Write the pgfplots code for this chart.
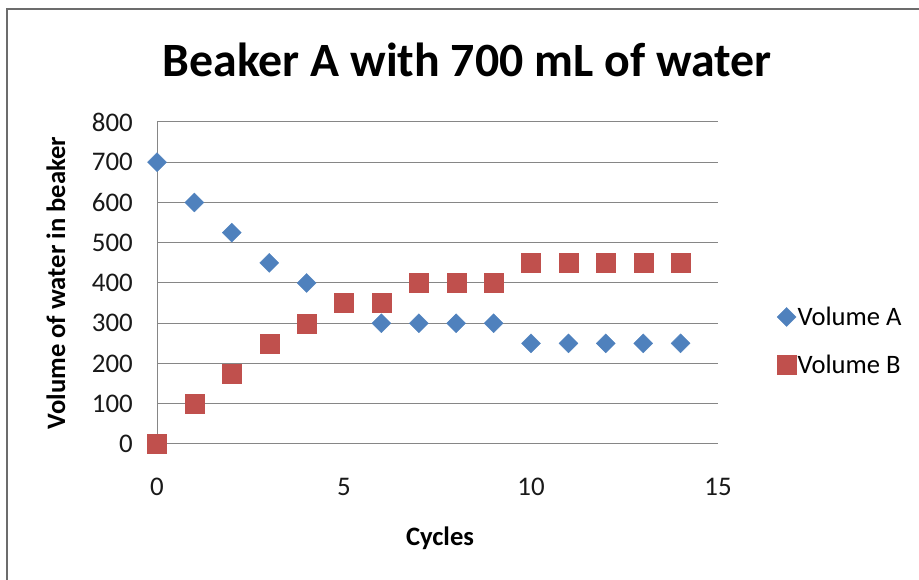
\documentclass[border=0pt]{standalone}
\usepackage{pgfplots}
\pgfplotsset{compat=1.18}
\usepackage{fontspec}
\setmainfont{Carlito}
\definecolor{blueA}{HTML}{4F81BD}
\definecolor{redB}{HTML}{C0504D}
\definecolor{gridc}{HTML}{868686}
\begin{document}
\begin{tikzpicture}[x=1bp,y=1bp]
\useasboundingbox (0,0) rectangle (919,580);
\draw[color=gray!85!black, line width=2bp] (6.5,0) -- (6.5,570.5) -- (919,570.5);
\begin{axis}[
  at={(157bp,136bp)}, anchor=south west,
  scale only axis, width=561bp, height=322bp,
  xmin=0, xmax=15, ymin=0, ymax=800,
  xtick={0,5,10,15}, ytick={0,100,...,800},
  axis lines=left, axis line style={gridc, -, line width=1bp},
  ymajorgrids, grid style={gridc, line width=1bp},
  major tick length=0pt,
  /pgf/number format/assume math mode=true,
  tick label style={font=\fontsize{27}{30}\selectfont, text=black!90},
  yticklabel style={anchor=east, inner sep=0pt, xshift=-24bp},
  xticklabel style={anchor=north, inner sep=0pt, yshift=-34bp},
  clip=false,
  legend style={at={(rel axis cs:1.105,0.32)}, anchor=west, draw=none, fill=none,
    font=\fontsize{26.7}{30}\selectfont, row sep=25bp, inner sep=0pt,
    nodes={inner sep=1.5bp}},
  legend cell align=left,
  legend image code/.code={\draw[#1] plot coordinates {(0bp,0bp)};},
]
\addplot[only marks, mark=square*, mark size=6.7bp, mark options={rotate=45, fill=blueA, draw=blueA}]
  coordinates {(0,700)(1,600)(2,525)(3,450)(4,400)(5,350)(6,300)(7,300)(8,300)(9,300)(10,250)(11,250)(12,250)(13,250)(14,250)};
\addlegendentry{Volume A}
\addplot[only marks, mark=square*, mark size=9.5bp, mark options={fill=redB, draw=redB}]
  coordinates {(0,0)(1,100)(2,175)(3,250)(4,300)(5,350)(6,350)(7,400)(8,400)(9,400)(10,450)(11,450)(12,450)(13,450)(14,450)};
\addlegendentry{Volume B}
\end{axis}
\node[anchor=base, font=\bfseries\fontsize{48}{56}\selectfont] at (467,503) {Beaker A with 700 mL of water};
\node[rotate=90, anchor=base, font=\bfseries\fontsize{26.7}{30}\selectfont] at (65,297) {Volume of water in beaker};
\node[anchor=base, font=\bfseries\fontsize{26.7}{30}\selectfont] at (440,34) {Cycles};
\end{tikzpicture}
\end{document}
